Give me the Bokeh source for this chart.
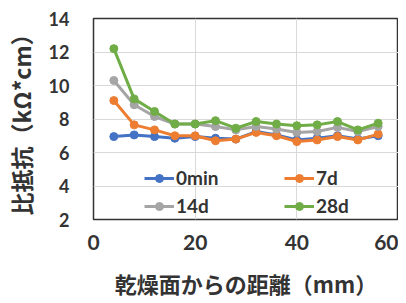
from bokeh.plotting import figure
from bokeh.models import Range1d, FixedTicker, Legend, LegendItem
from bokeh.embed import file_html
from bokeh.resources import INLINE

distance = [4, 8, 12, 16, 20, 24, 28, 32, 36, 40, 44, 48, 52, 56]
r_0min = [6.95, 7.05, 6.95, 6.85, 6.95, 6.85, 6.8, 7.25, 7.05, 6.75, 6.85, 7.0, 6.8, 7.0]
r_7d = [9.1, 7.65, 7.35, 7.0, 7.0, 6.7, 6.8, 7.2, 7.0, 6.65, 6.75, 6.95, 6.75, 7.1]
r_14d = [10.3, 8.85, 8.15, 7.7, 7.7, 7.55, 7.35, 7.55, 7.4, 7.2, 7.25, 7.5, 7.25, 7.55]
r_28d = [12.2, 9.2, 8.45, 7.7, 7.7, 7.9, 7.45, 7.85, 7.7, 7.6, 7.65, 7.85, 7.35, 7.75]
series_names = ["0min", "7d", "14d", "28d"]
series_colors = ["#4472C4", "#ED7D31", "#A5A5A5", "#70AD47"]
x_ticks = [0, 20, 40, 60]
y_ticks = [2, 4, 6, 8, 10, 12, 14]
x_title = "乾燥面からの距離（mm）"
y_title = "比抵抗（kΩ*cm）"

FONT = "Noto Sans CJK JP"
NUMFONT = "Lato"
TXT = "#333333"

p = figure(width=398, height=302, output_backend="svg", toolbar_location=None,
           x_range=Range1d(0, 60), y_range=Range1d(2, 14),
           min_border_left=83, min_border_right=0, min_border_top=18, min_border_bottom=83)
p.background_fill_color = "white"
p.border_fill_color = "white"
p.outline_line_color = "#333333"
p.outline_line_width = 1.5

p.xaxis.ticker = FixedTicker(ticks=x_ticks)
p.yaxis.ticker = FixedTicker(ticks=y_ticks)
for ax in (p.xaxis, p.yaxis):
    ax.axis_line_color = None
    ax.major_tick_line_color = None
    ax.minor_tick_line_color = None
    ax.major_label_text_font = NUMFONT
    ax.major_label_text_font_style = "bold"
    ax.major_label_text_color = TXT
    ax.axis_label_text_font = FONT
    ax.axis_label_text_font_style = "bold"
    ax.axis_label_text_color = TXT
p.xaxis.major_label_text_font_size = "21px"
p.yaxis.major_label_text_font_size = "18px"
p.xaxis.major_label_standoff = 9
p.yaxis.major_label_standoff = 18
p.xaxis.axis_label = x_title
p.xaxis.axis_label_text_font_size = "22px"
p.xaxis.axis_label_standoff = 14
p.yaxis.axis_label = y_title
p.yaxis.axis_label_text_font_size = "23px"
p.yaxis.axis_label_standoff = 8

p.xgrid.grid_line_color = "#d9d9d9"
p.ygrid.grid_line_color = "#d9d9d9"
p.xgrid.ticker = FixedTicker(ticks=x_ticks)
p.ygrid.ticker = FixedTicker(ticks=y_ticks)

items = {}
for name, col, vals in zip(series_names, series_colors, [r_0min, r_7d, r_14d, r_28d]):
    l = p.line(distance, vals, line_color=col, line_width=3)
    s = p.scatter(distance, vals, marker="circle", size=8, fill_color=col, line_color=col)
    items[name] = LegendItem(label=name, renderers=[l, s])

legend = Legend(items=[items["0min"], items["14d"], items["7d"], items["28d"]], ncols=2, location=(51, 2))
legend.background_fill_alpha = 0
legend.border_line_color = None
legend.padding = 0
legend.margin = 0
legend.spacing = 5
legend.glyph_width = 30
legend.glyph_height = 20
legend.label_height = 20
legend.label_width = 103
legend.label_standoff = 2
legend.label_text_font = NUMFONT
legend.label_text_font_style = "bold"
legend.label_text_font_size = "19px"
legend.label_text_color = TXT
p.add_layout(legend, "center")

open("out.html", "w").write(file_html(p, INLINE))
